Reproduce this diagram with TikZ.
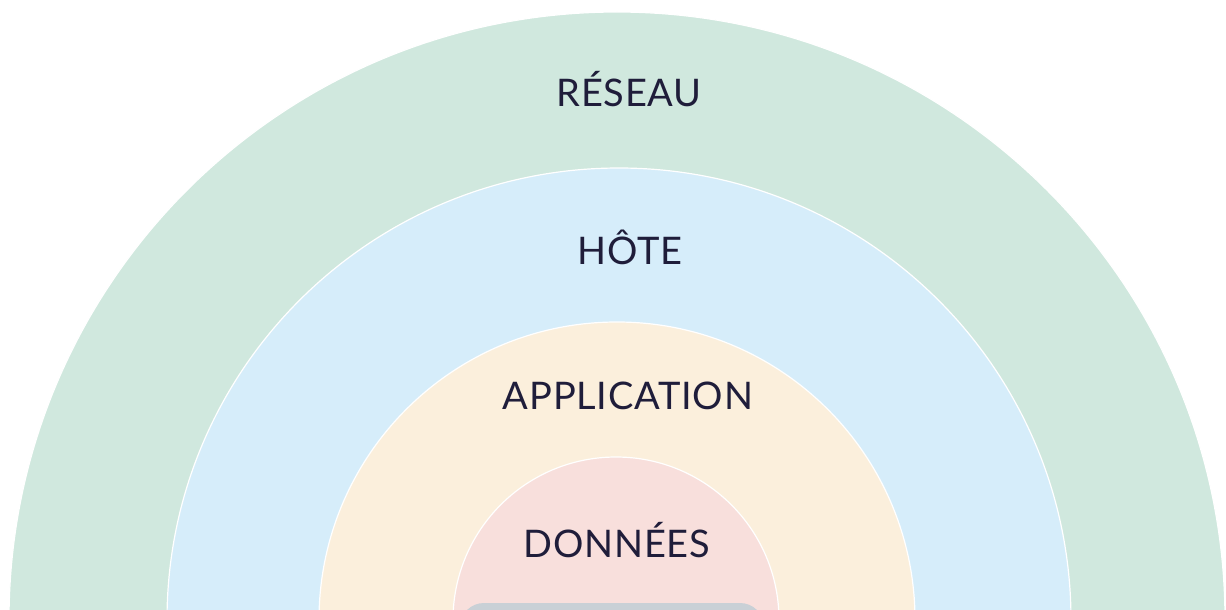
\documentclass[tikz,border=0pt]{standalone}
\usepackage{fontspec}
\setmainfont{Lato}[LetterSpace=2]
\definecolor{vertreseau}{HTML}{D0E8DE}
\definecolor{bleuhote}{HTML}{D6EDFA}
\definecolor{jauneappli}{HTML}{FBEFDC}
\definecolor{rosedonnees}{HTML}{F8DFDC}
\definecolor{grisbase}{HTML}{C9D0D6}
\definecolor{encre}{HTML}{1F1D3A}

\tikzset{couche/.style = {draw=white, line width=0.6pt},
         etiquette/.style = {anchor=base, text=encre,
                             font=\fontsize{19}{23}\selectfont}}

\begin{document}
\begin{tikzpicture}[x=0.5pt,y=-0.5pt]
\useasboundingbox (0,0) rectangle (1226,610);
\clip (0,0) rectangle (1226,610);
% les couches
\fill[couche,fill=vertreseau]  (617,620) circle (608);
\fill[couche,fill=bleuhote]    (619,620) circle (452);
\fill[couche,fill=jauneappli]  (617,620) circle (298);
\fill[couche,fill=rosedonnees] (616,620) circle (163);
\fill[grisbase,rounded corners=12pt] (460,603) rectangle (764,660);
% les noms
\node[etiquette] (reseau)  at (629,107) {RÉSEAU};
\node[etiquette] (hote)    at (630,264) {HÔTE};
\node[etiquette] (appli)   at (628,409) {APPLICATION};
\node[etiquette] (donnees) at (617,557) {DONNÉES};
\end{tikzpicture}
\end{document}
